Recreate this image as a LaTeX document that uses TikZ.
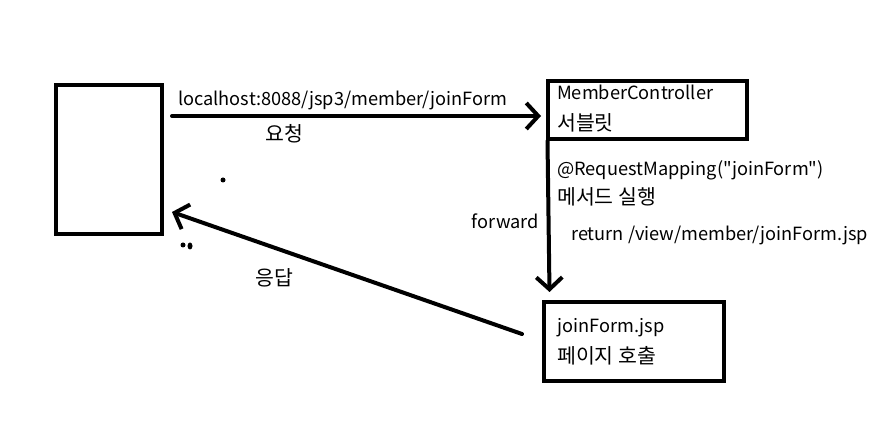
\documentclass[tikz,border=0pt]{standalone}
\usepackage{fontspec}
\setmainfont{Noto Sans CJK KR}
\usetikzlibrary{arrows.meta,positioning}

\begin{document}
\begin{tikzpicture}[x=1pt, y=-1pt,
  box/.style={draw=black, line width=4pt, inner sep=0pt},
  txt/.style={anchor=base west, inner sep=0pt, font=\fontsize{18.2}{22}\selectfont},
  ktxt/.style={txt, font=\fontsize{20.5}{24}\selectfont},
  arr/.style={line width=4pt, line cap=round, -{Straight Barb[length=12pt, width=26pt, line width=4pt]}}]
  \useasboundingbox (0,0) rectangle (886,427);

  % boxes
  \node[box, minimum width=106pt, minimum height=149pt](client) at (109,159.5){};
  \node[box, minimum width=199pt, minimum height=58pt](ctrl) at (647.5,110){};
  \node[box, minimum width=180pt, minimum height=79pt](page) at (634,341.5){};

  % texts
  \node[txt](url) at (178,106){localhost:8088/jsp3/member/joinForm};
  \node[ktxt](req) at (265,142){요청};
  \node[txt](ctrlname) at (557,100){MemberController};
  \node[ktxt](servlet) at (557,131){서블릿};
  \node[txt](mapping) at (557,176){@RequestMapping(\textquotedbl joinForm\textquotedbl)};
  \node[ktxt](method) at (557,205){메서드 실행};
  \node[txt](ret) at (571,241){return /view/member/joinForm.jsp};
  \node[txt, anchor=base east](fwd) at (539,229){forward};
  \node[txt](jspname) at (557,333){joinForm.jsp};
  \node[ktxt](call) at (557,363){페이지 호출};
  \node[ktxt](resp) at (255,286){응답};

  % stray dots
  \fill (223,180) circle (2.5pt);
  \fill (183,245) circle (2.5pt);
  \fill (190,246) ellipse (2.5pt and 3.5pt);

  % connectors
  \coordinate (reqS) at (172,116);
  \coordinate (reqE) at (541,116);
  \coordinate (fwdS) at ([xshift=1.5pt]ctrl.south west);
  \coordinate (fwdE) at (549.5,292);
  \coordinate (respS) at (522,334);
  \coordinate (respE) at (172,212);

  \path[arr]
  (reqS) edge (reqE)
  (fwdS) edge (fwdE)
  (respS) edge (respE);
\end{tikzpicture}
\end{document}
